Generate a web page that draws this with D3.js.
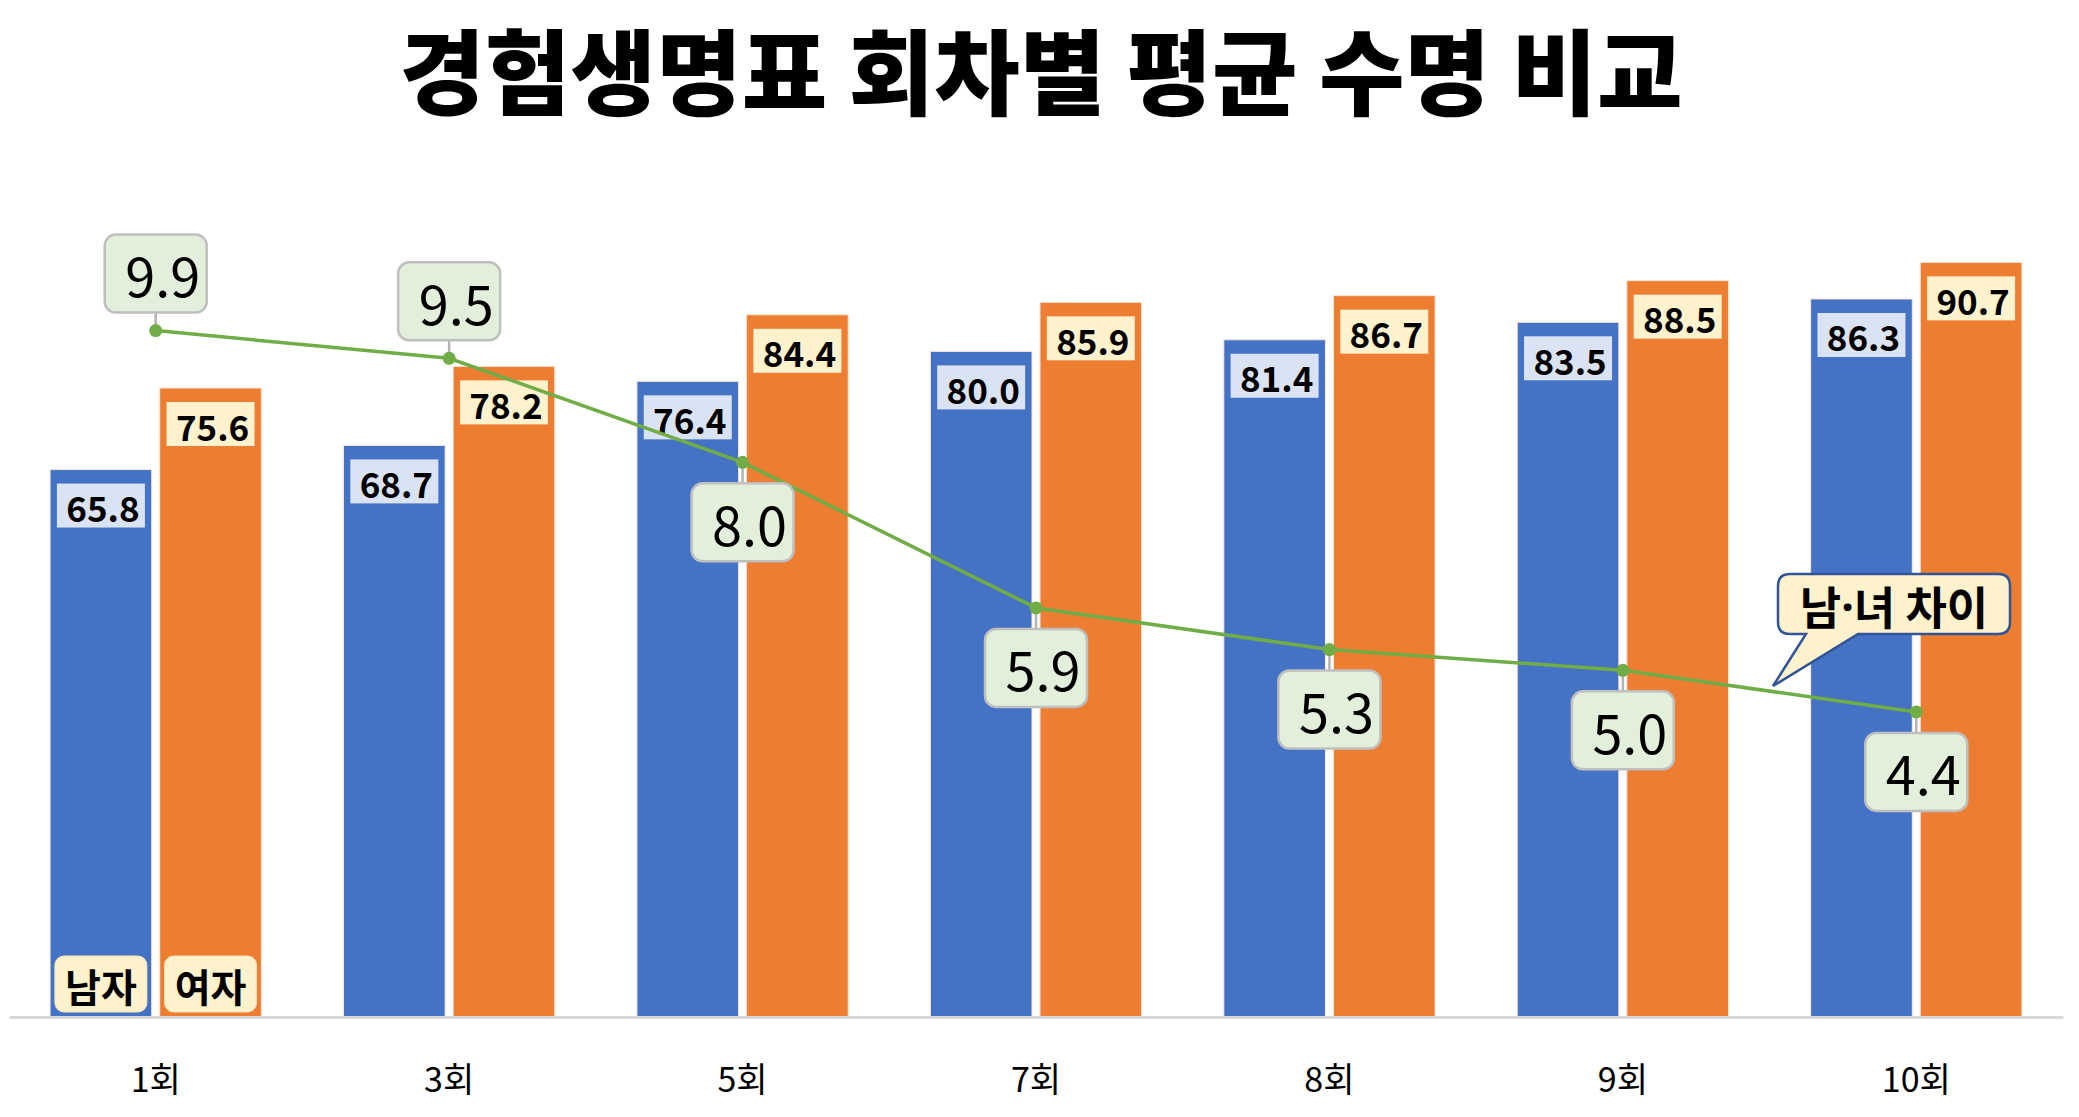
<!DOCTYPE html>
<html><head><meta charset="utf-8">
<script src="https://cdn.jsdelivr.net/npm/d3@7"></script>
<style>
html,body{margin:0;padding:0;background:#fff;}
svg{display:block;}
text{font-family:"Noto Sans CJK KR","Noto Sans",sans-serif;}
</style></head>
<body>
<svg id="chart" width="2079" height="1117"></svg>
<script>
const title = "경험생명표 회차별 평균 수명 비교";
const categories = ["1회","3회","5회","7회","8회","9회","10회"];
const seriesNames = ["남자","여자"];
const maleValues = [65.8,68.7,76.4,80.0,81.4,83.5,86.3];
const femaleValues = [75.6,78.2,84.4,85.9,86.7,88.5,90.7];
const gapValues = [9.9,9.5,8.0,5.9,5.3,5.0,4.4];
const gapNameParts = ["남","·","녀 차이"];

const W = 2079, H = 1117;
const svg = d3.select("#chart");
const baseY = 1017, topY = 185;

const x0 = d3.scaleBand().domain(categories).range([9, 2063]).paddingInner(0.28).paddingOuter(0.14);
const x1 = d3.scaleBand().domain(seriesNames).range([0, x0.bandwidth()]).paddingInner(0.073);
const y = d3.scaleLinear().domain([0,100]).range([baseY, topY]);
const y2 = d3.scaleLinear().domain([0,12]).range([baseY, topY]);
const colors = {"남자":"#4472c4","여자":"#ed7d31"};
const labelFill = {"남자":"#dae3f3","여자":"#fff2cc"};

// title
svg.append("text").attr("x", 1041).attr("y", 67)
  .attr("text-anchor","middle").attr("dominant-baseline","central")
  .attr("font-size", 93).attr("font-weight", 900).attr("fill","#000")
  .text(title);

const rows = categories.map((c,i)=>({cat:c, vals:[{s:"남자",v:maleValues[i]},{s:"여자",v:femaleValues[i]}]}));

const g = svg.append("g");
const groups = g.selectAll("g.cat").data(rows).join("g")
  .attr("transform", d=>`translate(${x0(d.cat)},0)`);

groups.selectAll("rect.bar").data(d=>d.vals).join("rect")
  .attr("class","bar")
  .attr("x", d=>x1(d.s)).attr("width", x1.bandwidth())
  .attr("y", d=>y(d.v)).attr("height", d=>baseY - y(d.v))
  .attr("fill", d=>colors[d.s]).attr("stroke","#fbe5d6").attr("stroke-width",1);

// axis baseline
const xAxis = d3.axisBottom(x0).tickSize(0).tickPadding(0);
const ax = svg.append("g").attr("transform",`translate(0,${baseY})`).call(xAxis);
ax.select(".domain").attr("stroke","#d9d9d9").attr("stroke-width",3);
ax.selectAll(".tick text").attr("font-size",34).attr("fill","#000")
  .attr("font-family",'"Noto Sans CJK KR",sans-serif')
  .attr("dy", null).attr("y", 60).attr("dominant-baseline","central");

// bar value labels
const lw = 88, lh = 44;
const lab = groups.selectAll("g.vl").data(d=>d.vals).join("g").attr("class","vl")
  .attr("transform", d=>`translate(${x1(d.s)+x1.bandwidth()/2},${y(d.v)+14})`);
lab.append("rect").attr("x",-lw/2).attr("y",0).attr("width",lw).attr("height",lh)
  .attr("fill", d=>labelFill[d.s]);
lab.append("text").attr("x",2).attr("y",lh/2+1).attr("text-anchor","middle")
  .attr("dominant-baseline","central").attr("font-size",35).attr("font-weight",700)
  .attr("fill","#000").text(d=>d.v.toFixed(1));

// legend-like labels in first category
const legG = svg.append("g");
seriesNames.forEach((s)=>{
  const cx = x0(categories[0]) + x1(s) + x1.bandwidth()/2;
  const lg = legG.append("g").attr("transform",`translate(${cx},${baseY-33})`);
  lg.append("rect").attr("x",-46).attr("y",-28).attr("width",92).attr("height",56)
    .attr("rx",9).attr("fill","#fff2cc").attr("stroke","#f4e3b5").attr("stroke-width",1);
  lg.append("text").attr("x",0).attr("y",1).attr("text-anchor","middle")
    .attr("dominant-baseline","central").attr("font-size",39).attr("font-weight",700)
    .attr("fill","#000").text(s);
});

// gap line
const pts = categories.map((c,i)=>({cat:c, v:gapValues[i], x:x0(c)+x0.bandwidth()/2, y:y2(gapValues[i]), above:i<2}));
svg.append("path").datum(pts)
  .attr("d", d3.line().x(d=>d.x).y(d=>d.y))
  .attr("fill","none").attr("stroke","#70ad47").attr("stroke-width",3.5);

const bw = 102, bh = 78;
pts.forEach(p=>{
  const cy = p.above ? p.y - 57 : p.y + 60;
  const edge = p.above ? cy + bh/2 : cy - bh/2;
  svg.append("line").attr("x1",p.x).attr("y1",p.y).attr("x2",p.x).attr("y2",edge)
    .attr("stroke","#b4b4b4").attr("stroke-width",2.5);
});
svg.selectAll("circle.mk").data(pts).join("circle").attr("class","mk")
  .attr("cx",d=>d.x).attr("cy",d=>d.y).attr("r",6.5).attr("fill","#70ad47");
pts.forEach(p=>{
  const cy = p.above ? p.y - 57 : p.y + 60;
  const gg = svg.append("g").attr("transform",`translate(${p.x},${cy})`);
  gg.append("rect").attr("x",-bw/2).attr("y",-bh/2).attr("width",bw).attr("height",bh)
    .attr("rx",11).attr("fill","#e2efda").attr("stroke","#bfbfbf").attr("stroke-width",2.5);
  gg.append("text").attr("x",7).attr("y",0).attr("text-anchor","middle")
    .attr("dominant-baseline","central").attr("font-size",54).attr("font-weight",400)
    .attr("fill","#000").text(p.v.toFixed(1));
});

// callout
(function(){
  const L=1778, R=2010, T=574, B=634, r=12;
  const t1=1806, t2=1858, tipX=1773, tipY=686;
  const path = `M${L+r},${T} L${R-r},${T} Q${R},${T} ${R},${T+r} L${R},${B-r} Q${R},${B} ${R-r},${B}
    L${t2},${B} L${tipX},${tipY} L${t1},${B} L${L+r},${B} Q${L},${B} ${L},${B-r} L${L},${T+r} Q${L},${T} ${L+r},${T} Z`;
  svg.append("path").attr("d",path).attr("fill","#fff2cc").attr("stroke","#2f5597").attr("stroke-width",2.5);
  const t = svg.append("text").attr("x",(L+R)/2).attr("y",(T+B)/2+1).attr("text-anchor","middle")
    .attr("dominant-baseline","central").attr("font-size",45).attr("font-weight",700)
    .attr("fill","#000");
  t.append("tspan").text(gapNameParts[0]);
  t.append("tspan").attr("font-family",'"Noto Sans",sans-serif').text(gapNameParts[1]);
  t.append("tspan").text(gapNameParts[2]);
})();
</script>
</body></html>
